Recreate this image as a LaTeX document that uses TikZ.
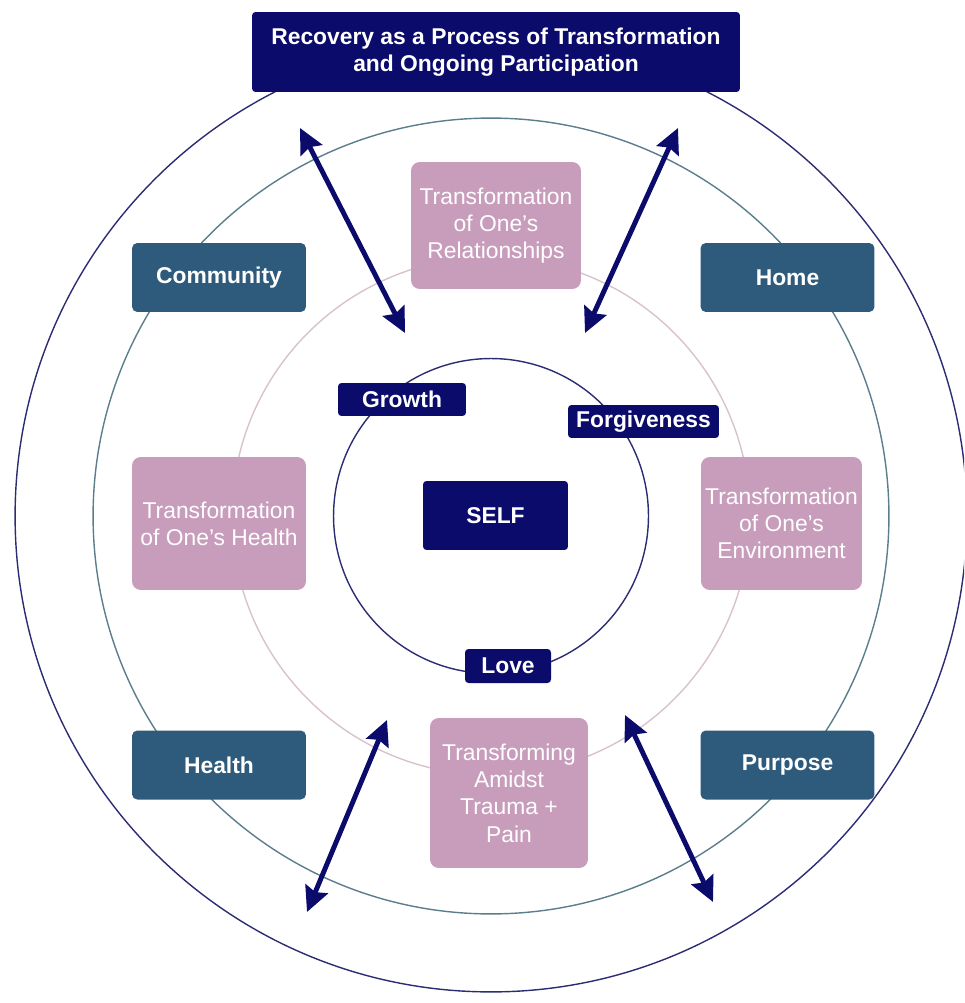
\documentclass[tikz,border=0pt]{standalone}
\usepackage{fontspec}
\setmainfont{Liberation Sans}
\usetikzlibrary{arrows.meta}
\definecolor{nv}{HTML}{0B0B6B}
\definecolor{tl}{HTML}{2E5B7B}
\definecolor{pk}{HTML}{C89DBC}
\definecolor{ringout}{HTML}{2C2C74}
\definecolor{ringteal}{HTML}{5A7E8C}
\definecolor{ringpink}{HTML}{D8C2CE}
\tikzstyle{lifebox} = [fill=tl, text=white, rounded corners=3pt, font=\fontsize{13}{15.5}\selectfont\bfseries, minimum width=3.48cm, minimum height=1.38cm, inner sep=0pt]
\tikzstyle{changebox} = [fill=pk, text=white, rounded corners=5pt, font=\fontsize{13}{15.5}\selectfont, align=center, inner sep=0pt]
\tikzstyle{corebox} = [fill=nv, text=white, rounded corners=2pt, font=\fontsize{13}{15.5}\selectfont\bfseries, align=center, inner sep=0pt]
\tikzstyle{linkarrow} = [line width=2.8pt, nv, {Stealth[length=0.5cm,width=0.48cm,inset=0.07cm]}-{Stealth[length=0.5cm,width=0.48cm,inset=0.07cm]}]

\begin{document}
\begin{tikzpicture}[x=0.02cm,y=-0.02cm]
			\useasboundingbox (0,0) rectangle (964,1003);
			\clip (0,0) rectangle (964,1003);
			\coordinate (c) at (491,516);
			\draw[ringout,line width=0.8pt] (c) circle[radius=9.52cm];
			\draw[ringteal,line width=0.8pt] (c) circle[radius=7.96cm];
			\draw[ringpink,line width=0.8pt] (c) circle[radius=5.18cm];
			\draw[ringout,line width=0.8pt] (c) circle[radius=3.15cm];
			\node[corebox,minimum width=9.76cm,minimum height=1.6cm] (title) at (496,52) {Recovery as a Process of Transformation\\and Ongoing Participation};
			\node[lifebox] (community) at (219,277.5) {Community};
			\node[lifebox] (home) at (787.5,277.5) {Home};
			\node[lifebox] (health) at (219,765) {Health};
			\node[lifebox] (purpose) at (787.5,765) {Purpose};
			\node[changebox,minimum width=3.4cm,minimum height=2.54cm] (relations) at (496,225.5) {Transformation\\of One's\\Relationships};
			\node[changebox,minimum width=3.48cm,minimum height=2.66cm] (wellness) at (219,523.5) {Transformation\\of One's Health};
			\node[changebox,minimum width=3.22cm,minimum height=2.66cm] (environment) at (781.5,523.5) {Transformation\\of One's\\Environment};
			\node[changebox,minimum width=3.16cm,minimum height=3cm] (trauma) at (509,793) {Transforming\\Amidst\\Trauma +\\Pain};
			\node[corebox,minimum width=2.56cm,minimum height=0.66cm] (growth) at (402,399.5) {Growth};
			\node[corebox,minimum width=3.02cm,minimum height=0.66cm] (forgive) at (643.5,421.5) {Forgiveness};
			\node[corebox,minimum width=2.9cm,minimum height=1.38cm] (self) at (495.5,515.5) {SELF};
			\node[corebox,minimum width=1.72cm,minimum height=0.68cm] (love) at (508,666) {Love};
			\coordinate (nwout) at (300,128);
			\coordinate (nwin) at (405,333);
			\coordinate (neout) at (678,128);
			\coordinate (nein) at (585,333);
			\coordinate (swin) at (387,720);
			\coordinate (swout) at (307,912);
			\coordinate (sein) at (625,715);
			\coordinate (seout) at (713,902);
			\draw[linkarrow] (nwout) -- (nwin);
			\draw[linkarrow] (neout) -- (nein);
			\draw[linkarrow] (swin) -- (swout);
			\draw[linkarrow] (sein) -- (seout);
		\end{tikzpicture}
\end{document}
